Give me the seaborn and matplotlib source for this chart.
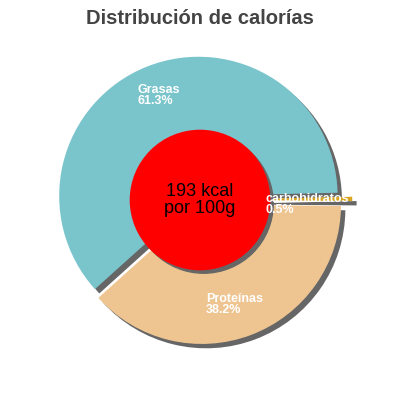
import matplotlib
matplotlib.use("Agg")
import matplotlib.pyplot as plt
import seaborn as sns

labels = ["Grasas", "carbohidratos", "Proteínas"]
values = [61.3, 0.5, 38.2]
colors = ["#7ac4cc", "#d9a520", "#eec591"]
explode = [0.03, 0.09, 0.035]
label_pos = [(-0.43, 0.72), (0.45, -0.03), (0.04, -0.72)]
center_text = "193 kcal\npor 100g"

sns.set_theme(style="white")
plt.rcParams["font.family"] = ["Liberation Sans", "DejaVu Sans"]

fig = plt.figure(figsize=(4, 4), dpi=100)
ax = fig.add_axes([0, 0, 1, 1])
lim = 200 / 145
ax.set_aspect("equal")
ax.axis("off")

r = 0.96
# shadow
ax.pie(values, colors=["#666666"] * 3, startangle=222, counterclock=False,
       explode=explode, center=(0.03, -0.03), radius=r,
       wedgeprops=dict(linewidth=0))
# slices
ax.pie(values, colors=colors, startangle=222, counterclock=False,
       explode=explode, radius=r, wedgeprops=dict(linewidth=0))

# center circle with shadow
ax.add_patch(plt.Circle((0.025, -0.025), 0.48, color="#666666", zorder=5))
ax.add_patch(plt.Circle((0, 0), 0.48, color="#ff0000", zorder=6))
ax.text(0, 0, center_text, ha="center", va="center", fontsize=13,
        color="black", zorder=7, linespacing=0.95)

for lab, v, (x, y) in zip(labels, values, label_pos):
    ax.text(x, y, f"{lab}\n{v}%", color="white", fontsize=9, fontweight="bold",
            ha="left", va="center", linespacing=0.95, zorder=8)

fig.text(0.5, 0.953, "Distribución de calorías", fontsize=14.5,
         fontweight="bold", color="#444444", ha="center", va="center")
ax.set_xlim(-lim, lim)
ax.set_ylim(-lim, lim)

plt.savefig("out.png", dpi=100)
